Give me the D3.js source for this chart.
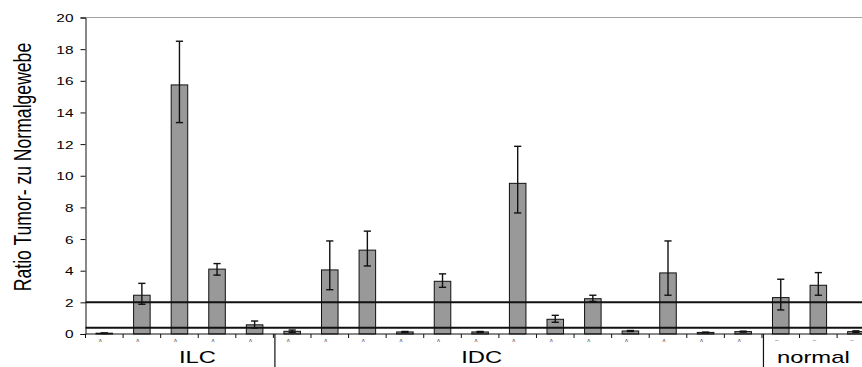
<!DOCTYPE html>
<html>
<head>
<meta charset="utf-8">
<script src="https://cdn.jsdelivr.net/npm/d3@7"></script>
<style>
  html, body { margin: 0; padding: 0; background: #fff; }
  svg { display: block; font-family: "Liberation Sans", Arial, sans-serif; }
</style>
</head>
<body>
<svg id="chart" width="862" height="367"></svg>
<script>
// Ratio tumour / normal tissue per sample, with error bars
const samples = d3.range(1, 22).map(i => "S" + i);
const groupOf = ["ILC","ILC","ILC","ILC","ILC",
  "IDC","IDC","IDC","IDC","IDC","IDC","IDC","IDC","IDC","IDC","IDC","IDC","IDC",
  "normal","normal","normal"];
const ratio   = [0.05, 2.45, 15.74, 4.1, 0.58, 0.17, 4.05, 5.3, 0.13, 3.33, 0.13, 9.52, 0.93, 2.23, 0.19, 3.86, 0.1, 0.15, 2.3, 3.08, 0.15];
const errHigh = [0.07, 3.2, 18.5, 4.45, 0.82, 0.25, 5.88, 6.5, 0.16, 3.8, 0.16, 11.86, 1.18, 2.45, 0.22, 5.88, 0.12, 0.18, 3.46, 3.88, 0.2];
const errLow  = [0.03, 1.88, 13.36, 3.72, 0.38, 0.1, 2.8, 4.3, 0.1, 2.95, 0.1, 7.65, 0.74, 2.06, 0.16, 2.45, 0.08, 0.12, 1.52, 2.45, 0.1];
const sampleMarks = ["ʌ","ʌ","ʌ","ʌ","ʌ","ʌ","ʌ","ʌ","ʌ","ʌ","ʌ","ʌ","ʌ","ʌ","ʌ","ʌ","ʌ","ʌ","–","–","–"];
const groups = ["ILC", "IDC", "normal"];
const groupLabelShift = [18, -36, -5];
const yTicks = [0, 2, 4, 6, 8, 10, 12, 14, 16, 18, 20];
const thresholds = [2, 0.4];
const yTitle = "Ratio Tumor- zu Normalgewebe";

const svg = d3.select("#chart");
const x0 = 85.5, xEnd = 874.7, yTop = 17.5, yBase = 334;
const stretch = 1.4;

const x = d3.scaleBand().domain(samples).range([x0, xEnd]).paddingInner(0.56).paddingOuter(0.28);
const step = x.step();
const y = d3.scaleLinear().domain([0, 20]).range([yBase, yTop]);

// top border of plot area
svg.append("line").attr("x1", x0).attr("x2", 862).attr("y1", y(20)).attr("y2", y(20))
  .attr("stroke", "#a0a0a0").attr("stroke-width", 1);

// bars
svg.append("g").selectAll("rect").data(samples).join("rect")
  .attr("x", d => x(d)).attr("width", x.bandwidth())
  .attr("y", (d, i) => y(ratio[i])).attr("height", (d, i) => yBase - y(ratio[i]))
  .attr("fill", "#999999").attr("stroke", "#111").attr("stroke-width", 1);

// error bars
const eb = svg.append("g").attr("stroke", "#111").attr("stroke-width", 1.4);
samples.forEach((s, i) => {
  const cx = x(s) + x.bandwidth() / 2;
  eb.append("line").attr("x1", cx).attr("x2", cx).attr("y1", y(errHigh[i])).attr("y2", y(errLow[i]));
  [errHigh[i], errLow[i]].forEach(v => {
    eb.append("line").attr("x1", cx - 3.6).attr("x2", cx + 3.6).attr("y1", y(v)).attr("y2", y(v));
  });
});

// threshold lines
svg.append("g").selectAll("line").data(thresholds).join("line")
  .attr("x1", x0).attr("x2", 862).attr("y1", d => y(d)).attr("y2", d => y(d))
  .attr("stroke", "#111").attr("stroke-width", 2);

// y axis
const yAxis = svg.append("g").attr("transform", `translate(${x0},0)`)
  .call(d3.axisLeft(y).tickValues(yTicks).tickSize(5).tickPadding(0).tickFormat(d3.format("d")));
yAxis.select(".domain").attr("stroke", "#111");
yAxis.selectAll(".tick line").attr("stroke", "#111");
yAxis.selectAll(".tick text").remove();
yAxis.selectAll(".tick").append("text")
  .attr("transform", `translate(-12,0) scale(${stretch},1)`)
  .attr("text-anchor", "end").attr("dy", "0.36em")
  .attr("font-size", 11).attr("fill", "#000")
  .text(d => d);

// x axis baseline and category ticks
svg.append("line").attr("x1", x0).attr("x2", 862).attr("y1", yBase).attr("y2", yBase)
  .attr("stroke", "#111").attr("stroke-width", 1);
svg.append("g").selectAll("line").data(d3.range(samples.length + 1)).join("line")
  .attr("x1", i => x0 + i * step).attr("x2", i => x0 + i * step)
  .attr("y1", yBase).attr("y2", yBase + 4)
  .attr("stroke", "#111").attr("stroke-width", 1);

// tiny per-sample labels
svg.append("g").selectAll("text").data(samples).join("text")
  .attr("x", d => x(d) + x.bandwidth() / 2 - 4)
  .attr("y", yBase + 8)
  .attr("text-anchor", "middle").attr("font-size", 6).attr("fill", "#444")
  .text((d, i) => sampleMarks[i]);

// group dividers and labels
const groupStart = groups.map(g => groupOf.indexOf(g));
const groupEnd = groups.map(g => groupOf.lastIndexOf(g) + 1);
svg.append("g").selectAll("line").data(groupStart.slice(1)).join("line")
  .attr("x1", i => x0 + i * step + 1.5).attr("x2", i => x0 + i * step + 1.5)
  .attr("y1", yBase).attr("y2", 367)
  .attr("stroke", "#111").attr("stroke-width", 1.2);
svg.append("g").selectAll("text").data(groups).join("text")
  .attr("transform", (g, k) => {
    const cx = x0 + (groupStart[k] + groupEnd[k]) / 2 * step + groupLabelShift[k];
    return `translate(${cx},363) scale(${stretch},1)`;
  })
  .attr("text-anchor", "middle").attr("font-size", 17).attr("fill", "#000")
  .text(g => g);

// y axis title
svg.append("text")
  .attr("transform", `translate(31,167) scale(${stretch},1) rotate(-90)`)
  .attr("text-anchor", "middle").attr("font-size", 17.6).attr("fill", "#000")
  .text(yTitle);
</script>
</body>
</html>
